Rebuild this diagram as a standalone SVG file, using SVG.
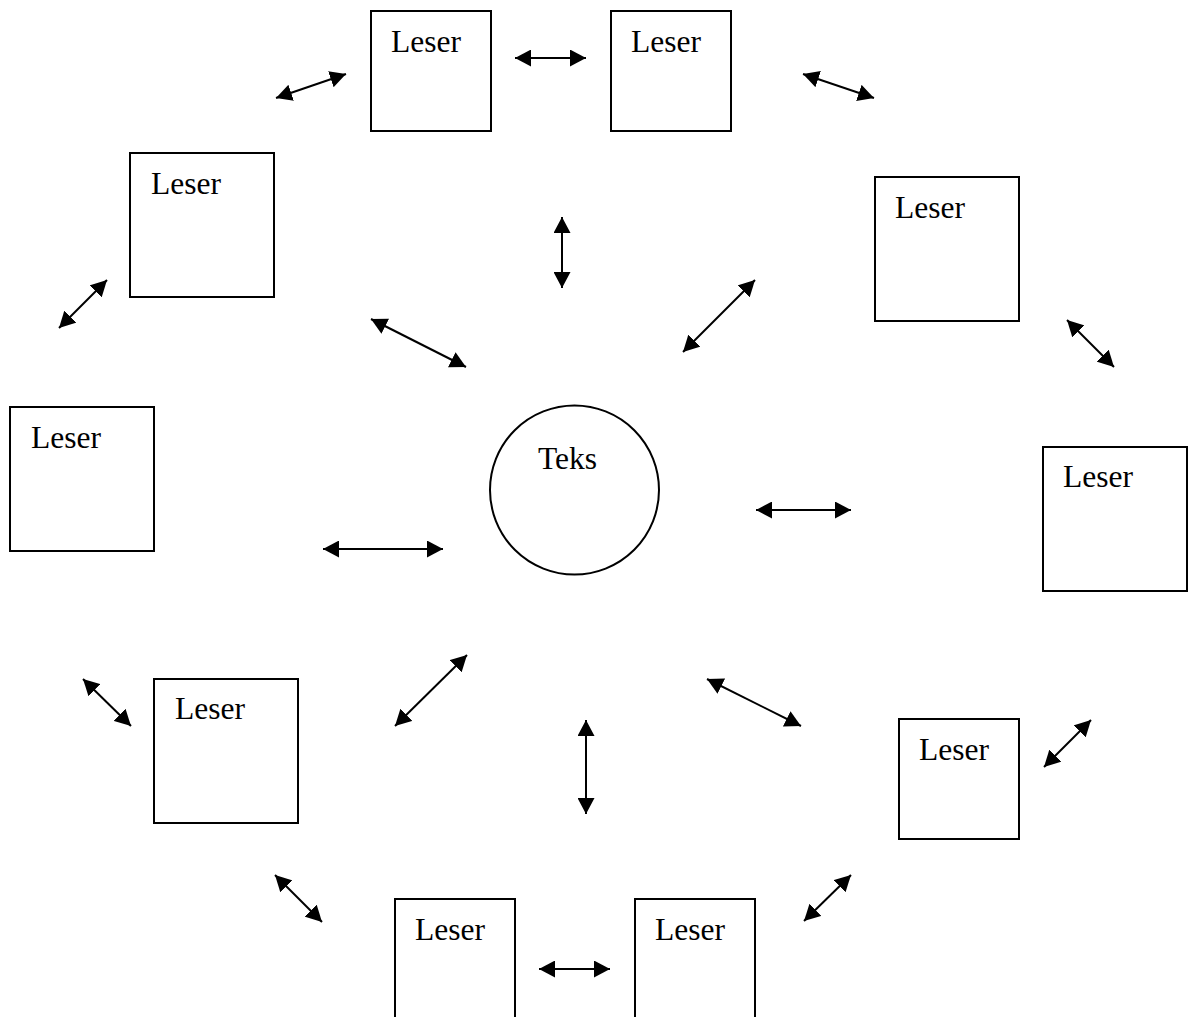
<svg xmlns="http://www.w3.org/2000/svg" width="1192" height="1017" viewBox="0 0 1192 1017">
<style>
.box{fill:#fff;stroke:#000;stroke-width:2}
.lbl{font-family:"Liberation Serif","Times New Roman",serif;font-size:31.5px;fill:#000}
.arr{stroke:#000;stroke-width:2;fill:none;marker-start:url(#ah);marker-end:url(#ah)}
</style>
<defs>
<marker id="ah" viewBox="0 0 16 17" refX="16" refY="8.5" markerWidth="16" markerHeight="17" markerUnits="userSpaceOnUse" orient="auto-start-reverse">
<path d="M0,0 L16,8.5 L0,17 z" fill="#000"/>
</marker>
</defs>
<rect width="1192" height="1017" fill="#fff"/>
<g id="teks"><circle cx="574.5" cy="490" r="84.5" fill="#fff" stroke="#000" stroke-width="2"/><text class="lbl" x="538" y="469">Teks</text></g>
<g id="leser1"><rect class="box" x="371" y="11" width="120" height="120"/><text class="lbl" x="391" y="52">Leser</text></g>
<g id="leser2"><rect class="box" x="611" y="11" width="120" height="120"/><text class="lbl" x="631" y="52">Leser</text></g>
<g id="leser3"><rect class="box" x="130" y="153" width="144" height="144"/><text class="lbl" x="151" y="194">Leser</text></g>
<g id="leser4"><rect class="box" x="875" y="177" width="144" height="144"/><text class="lbl" x="895" y="218">Leser</text></g>
<g id="leser5"><rect class="box" x="10" y="407" width="144" height="144"/><text class="lbl" x="31" y="448">Leser</text></g>
<g id="leser6"><rect class="box" x="1043" y="447" width="144" height="144"/><text class="lbl" x="1063" y="487">Leser</text></g>
<g id="leser7"><rect class="box" x="154" y="679" width="144" height="144"/><text class="lbl" x="175" y="719">Leser</text></g>
<g id="leser8"><rect class="box" x="899" y="719" width="120" height="120"/><text class="lbl" x="919" y="760">Leser</text></g>
<g id="leser9"><rect class="box" x="395" y="899" width="120" height="140"/><text class="lbl" x="415" y="940">Leser</text></g>
<g id="leser10"><rect class="box" x="635" y="899" width="120" height="140"/><text class="lbl" x="655" y="940">Leser</text></g>
<g id="connectors">
<line class="arr" x1="276" y1="98" x2="346" y2="74"/>
<line class="arr" x1="515" y1="58" x2="586" y2="58"/>
<line class="arr" x1="803" y1="74" x2="874" y2="98"/>
<line class="arr" x1="562" y1="217" x2="562" y2="288"/>
<line class="arr" x1="59" y1="328" x2="107" y2="280"/>
<line class="arr" x1="371" y1="319" x2="466" y2="367"/>
<line class="arr" x1="683" y1="352" x2="755" y2="280"/>
<line class="arr" x1="1067" y1="320" x2="1114" y2="367"/>
<line class="arr" x1="756" y1="510" x2="851" y2="510"/>
<line class="arr" x1="323" y1="549" x2="443" y2="549"/>
<line class="arr" x1="83" y1="679" x2="131" y2="726"/>
<line class="arr" x1="395" y1="726" x2="467" y2="655"/>
<line class="arr" x1="707" y1="679" x2="801" y2="726"/>
<line class="arr" x1="586" y1="720" x2="586" y2="814"/>
<line class="arr" x1="1044" y1="767" x2="1091" y2="720"/>
<line class="arr" x1="275" y1="875" x2="322" y2="922"/>
<line class="arr" x1="804" y1="921" x2="851" y2="875"/>
<line class="arr" x1="539" y1="969" x2="610" y2="969"/>
</g>
</svg>
